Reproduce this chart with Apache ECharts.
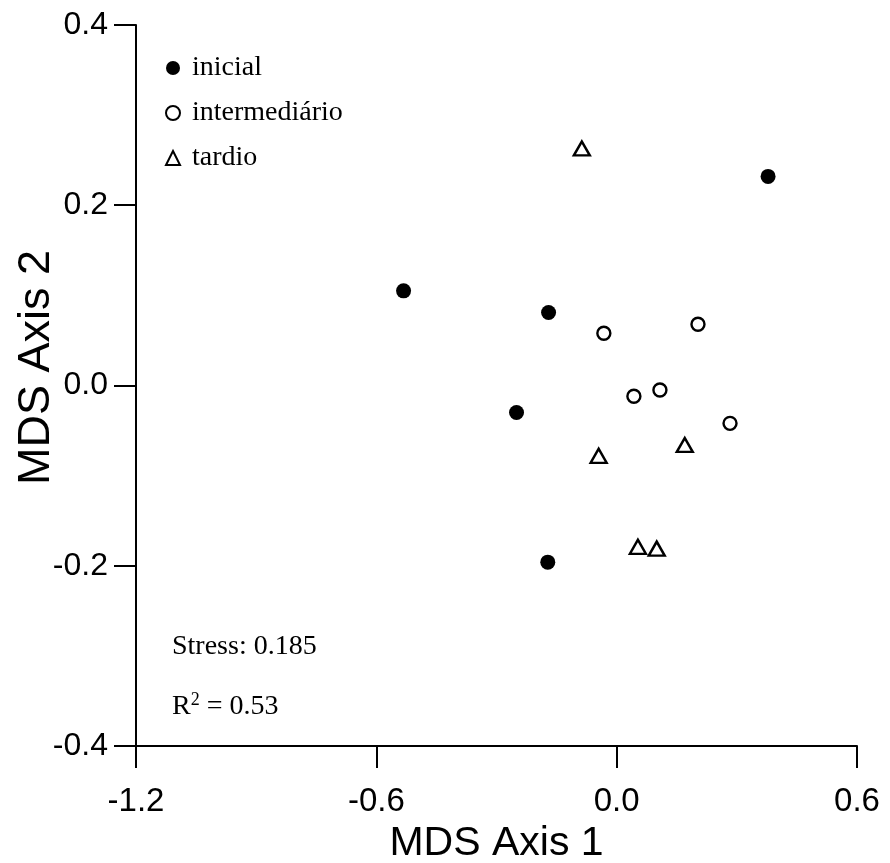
<!DOCTYPE html>
<html>
<head>
<meta charset="utf-8">
<script src="https://cdn.jsdelivr.net/npm/echarts@6/dist/echarts.min.js"></script>
<style>
  html, body { margin: 0; padding: 0; background: #fff; }
  #chart { width: 890px; height: 863px; }
</style>
</head>
<body>
<div id="chart"></div>
<script>
// dados do MDS (eixo 1, eixo 2)
var inicial = [[0.378, 0.232], [-0.532, 0.105], [-0.170, 0.081], [-0.250, -0.030], [-0.172, -0.196]];
var intermediario = [[-0.032, 0.058], [0.203, 0.068], [0.108, -0.005], [0.043, -0.012], [0.283, -0.042]];
var tardio = [[-0.087, 0.263], [-0.045, -0.078], [0.170, -0.066], [0.053, -0.179], [0.100, -0.181]];
var xTicks = [-1.2, 0.6];   // min, max
var yTicks = [-0.4, 0.4];
var stressTxt = 'Stress: 0.185';
var r2Txt = '0.53';

var serif = '"Liberation Serif", "Times New Roman", serif';
var sans = '"Liberation Sans", Arial, sans-serif';

var chart = echarts.init(document.getElementById('chart'));
var option = {
    animation: false,
    backgroundColor: '#fff',
    grid: { left: 136, right: 33, top: 25, bottom: 117, containLabel: false, outerBoundsMode: 'none' },
    legend: {
        orient: 'vertical',
        left: 160,
        top: 49,
        itemGap: 17,
        itemWidth: 14,
        itemHeight: 14,
        textStyle: { fontFamily: serif, fontSize: 28, lineHeight: 28, color: '#000', padding: [0, 0, 0, 7] },
        data: ['inicial', 'intermediário', 'tardio']
    },
    xAxis: {
        type: 'value',
        min: xTicks[0],
        max: xTicks[1],
        interval: 0.6,
        name: 'MDS Axis 1',
        nameLocation: 'middle',
        nameGap: 75,
        nameTextStyle: { fontFamily: sans, fontSize: 41, color: '#000' },
        axisLine: { onZero: false, lineStyle: { color: '#000', width: 2 } },
        axisTick: { length: 22, lineStyle: { color: '#000', width: 2 } },
        axisLabel: {
            margin: 39, fontFamily: sans, fontSize: 33, color: '#000',
            formatter: function (v) { return v.toFixed(1); }
        },
        splitLine: { show: false }
    },
    yAxis: {
        type: 'value',
        min: yTicks[0],
        max: yTicks[1],
        interval: 0.2,
        name: 'MDS Axis 2',
        nameLocation: 'middle',
        nameGap: 77,
        nameMoveOverlap: false,
        nameTextStyle: { fontFamily: sans, fontSize: 45, color: '#000', padding: [0, 0, 0, 36] },
        axisLine: { onZero: false, lineStyle: { color: '#000', width: 2 } },
        axisTick: { length: 22, lineStyle: { color: '#000', width: 2 } },
        axisLabel: {
            margin: 28, fontFamily: sans, fontSize: 32, color: '#000',
            formatter: function (v) { return v.toFixed(1); }
        },
        splitLine: { show: false }
    },
    graphic: [
        {
            type: 'text', left: 172, top: 633,
            style: { text: stressTxt, font: '28px ' + serif, fill: '#000' }
        },
        {
            type: 'text', left: 172, top: 691,
            style: {
                text: '{a|R}{s|2}{a| = ' + r2Txt + '}',
                fill: '#000',
                rich: {
                    a: { fontFamily: serif, fontSize: 28, color: '#000', verticalAlign: 'bottom' },
                    s: { fontFamily: serif, fontSize: 18, color: '#000', verticalAlign: 'top', padding: [0, 0, 12, 0] }
                }
            }
        }
    ],
    series: [
        {
            name: 'inicial',
            type: 'scatter',
            symbol: 'circle',
            symbolSize: 15,
            itemStyle: { color: '#000', opacity: 1 },
            data: inicial
        },
        {
            name: 'intermediário',
            type: 'scatter',
            symbol: 'circle',
            symbolSize: 13,
            itemStyle: { color: '#fff', borderColor: '#000', borderWidth: 2.4, opacity: 1 },
            data: intermediario
        },
        {
            name: 'tardio',
            type: 'scatter',
            symbol: 'triangle',
            symbolSize: [16, 14],
            itemStyle: { color: '#fff', borderColor: '#000', borderWidth: 2.4, opacity: 1 },
            data: tardio
        }
    ]
};
chart.setOption(option);
</script>
</body>
</html>
